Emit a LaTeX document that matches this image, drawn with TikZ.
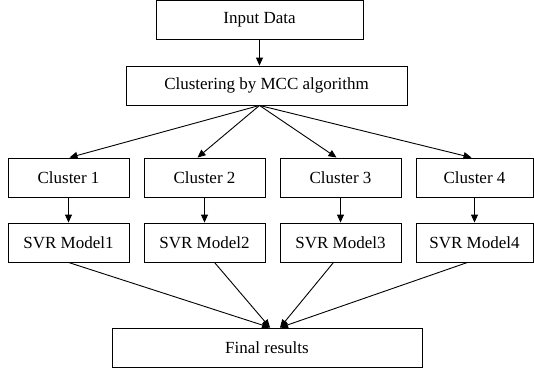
\documentclass[tikz,border=0pt]{standalone}
\usepackage{fontspec}
\setmainfont{Liberation Serif}
\usetikzlibrary{arrows.meta}
\tikzset{box/.style = {draw, fill=white, line width=0.9pt, rectangle, minimum height=39pt, inner sep=0pt, font=\fontsize{17}{20}\selectfont},
         arr/.style = {-{Triangle[length=8pt,width=7pt]}, line width=0.9pt}}
\begin{document}
\begin{tikzpicture}[x=1pt,y=-1pt]
        \useasboundingbox (0,0) rectangle (534,375);
        \node[box, minimum width=207pt](input)at(259.5,19.5){Input Data};
        \node[box, minimum width=281pt](mcc)at(266.5,85.5){Clustering by MCC algorithm};
        \draw[arr](input.south)--(input.south |- mcc.north);

        \coordinate(fork)at(input.south |- mcc.south);
        \node[box, minimum width=121pt](c1)at(68.5,177.5){Cluster 1};
        \node[box, minimum width=121pt](c2)at(204.5,177.5){Cluster 2};
        \node[box, minimum width=121pt](c3)at(340.5,177.5){Cluster 3};
        \node[box, minimum width=117pt](c4)at(474.5,177.5){Cluster 4};
        \draw[arr](fork)--([xshift=1pt]c1.north);
        \draw[arr](fork)--([xshift=-7pt]c2.north);
        \draw[arr](fork)--([xshift=-4pt]c3.north);
        \draw[arr](fork)--([xshift=-3pt]c4.north);

        \node[box, minimum width=121pt](s1)at(68.5,242.5){SVR Model1};
        \node[box, minimum width=121pt](s2)at(204.5,242.5){SVR Model2};
        \node[box, minimum width=121pt](s3)at(340.5,242.5){SVR Model3};
        \node[box, minimum width=117pt](s4)at(474.5,242.5){SVR Model4};
        \draw[arr](c1)--(s1);
        \draw[arr](c2)--(s2);
        \draw[arr](c3)--(s3);
        \draw[arr](c4)--(s4);

        \node[box, minimum width=310pt](final)at(267,347.5){Final results};
        \coordinate(in1)at([xshift=3pt]final.north);
        \coordinate(in2)at([xshift=13pt]final.north);
        \draw[arr](s1.south)--(in1);
        \draw[arr]([xshift=10pt]s2.south)--(in1);
        \draw[arr]([xshift=-7pt]s3.south)--(in2);
        \draw[arr]([xshift=-7pt]s4.south)--(in2);
    \end{tikzpicture}
\end{document}
